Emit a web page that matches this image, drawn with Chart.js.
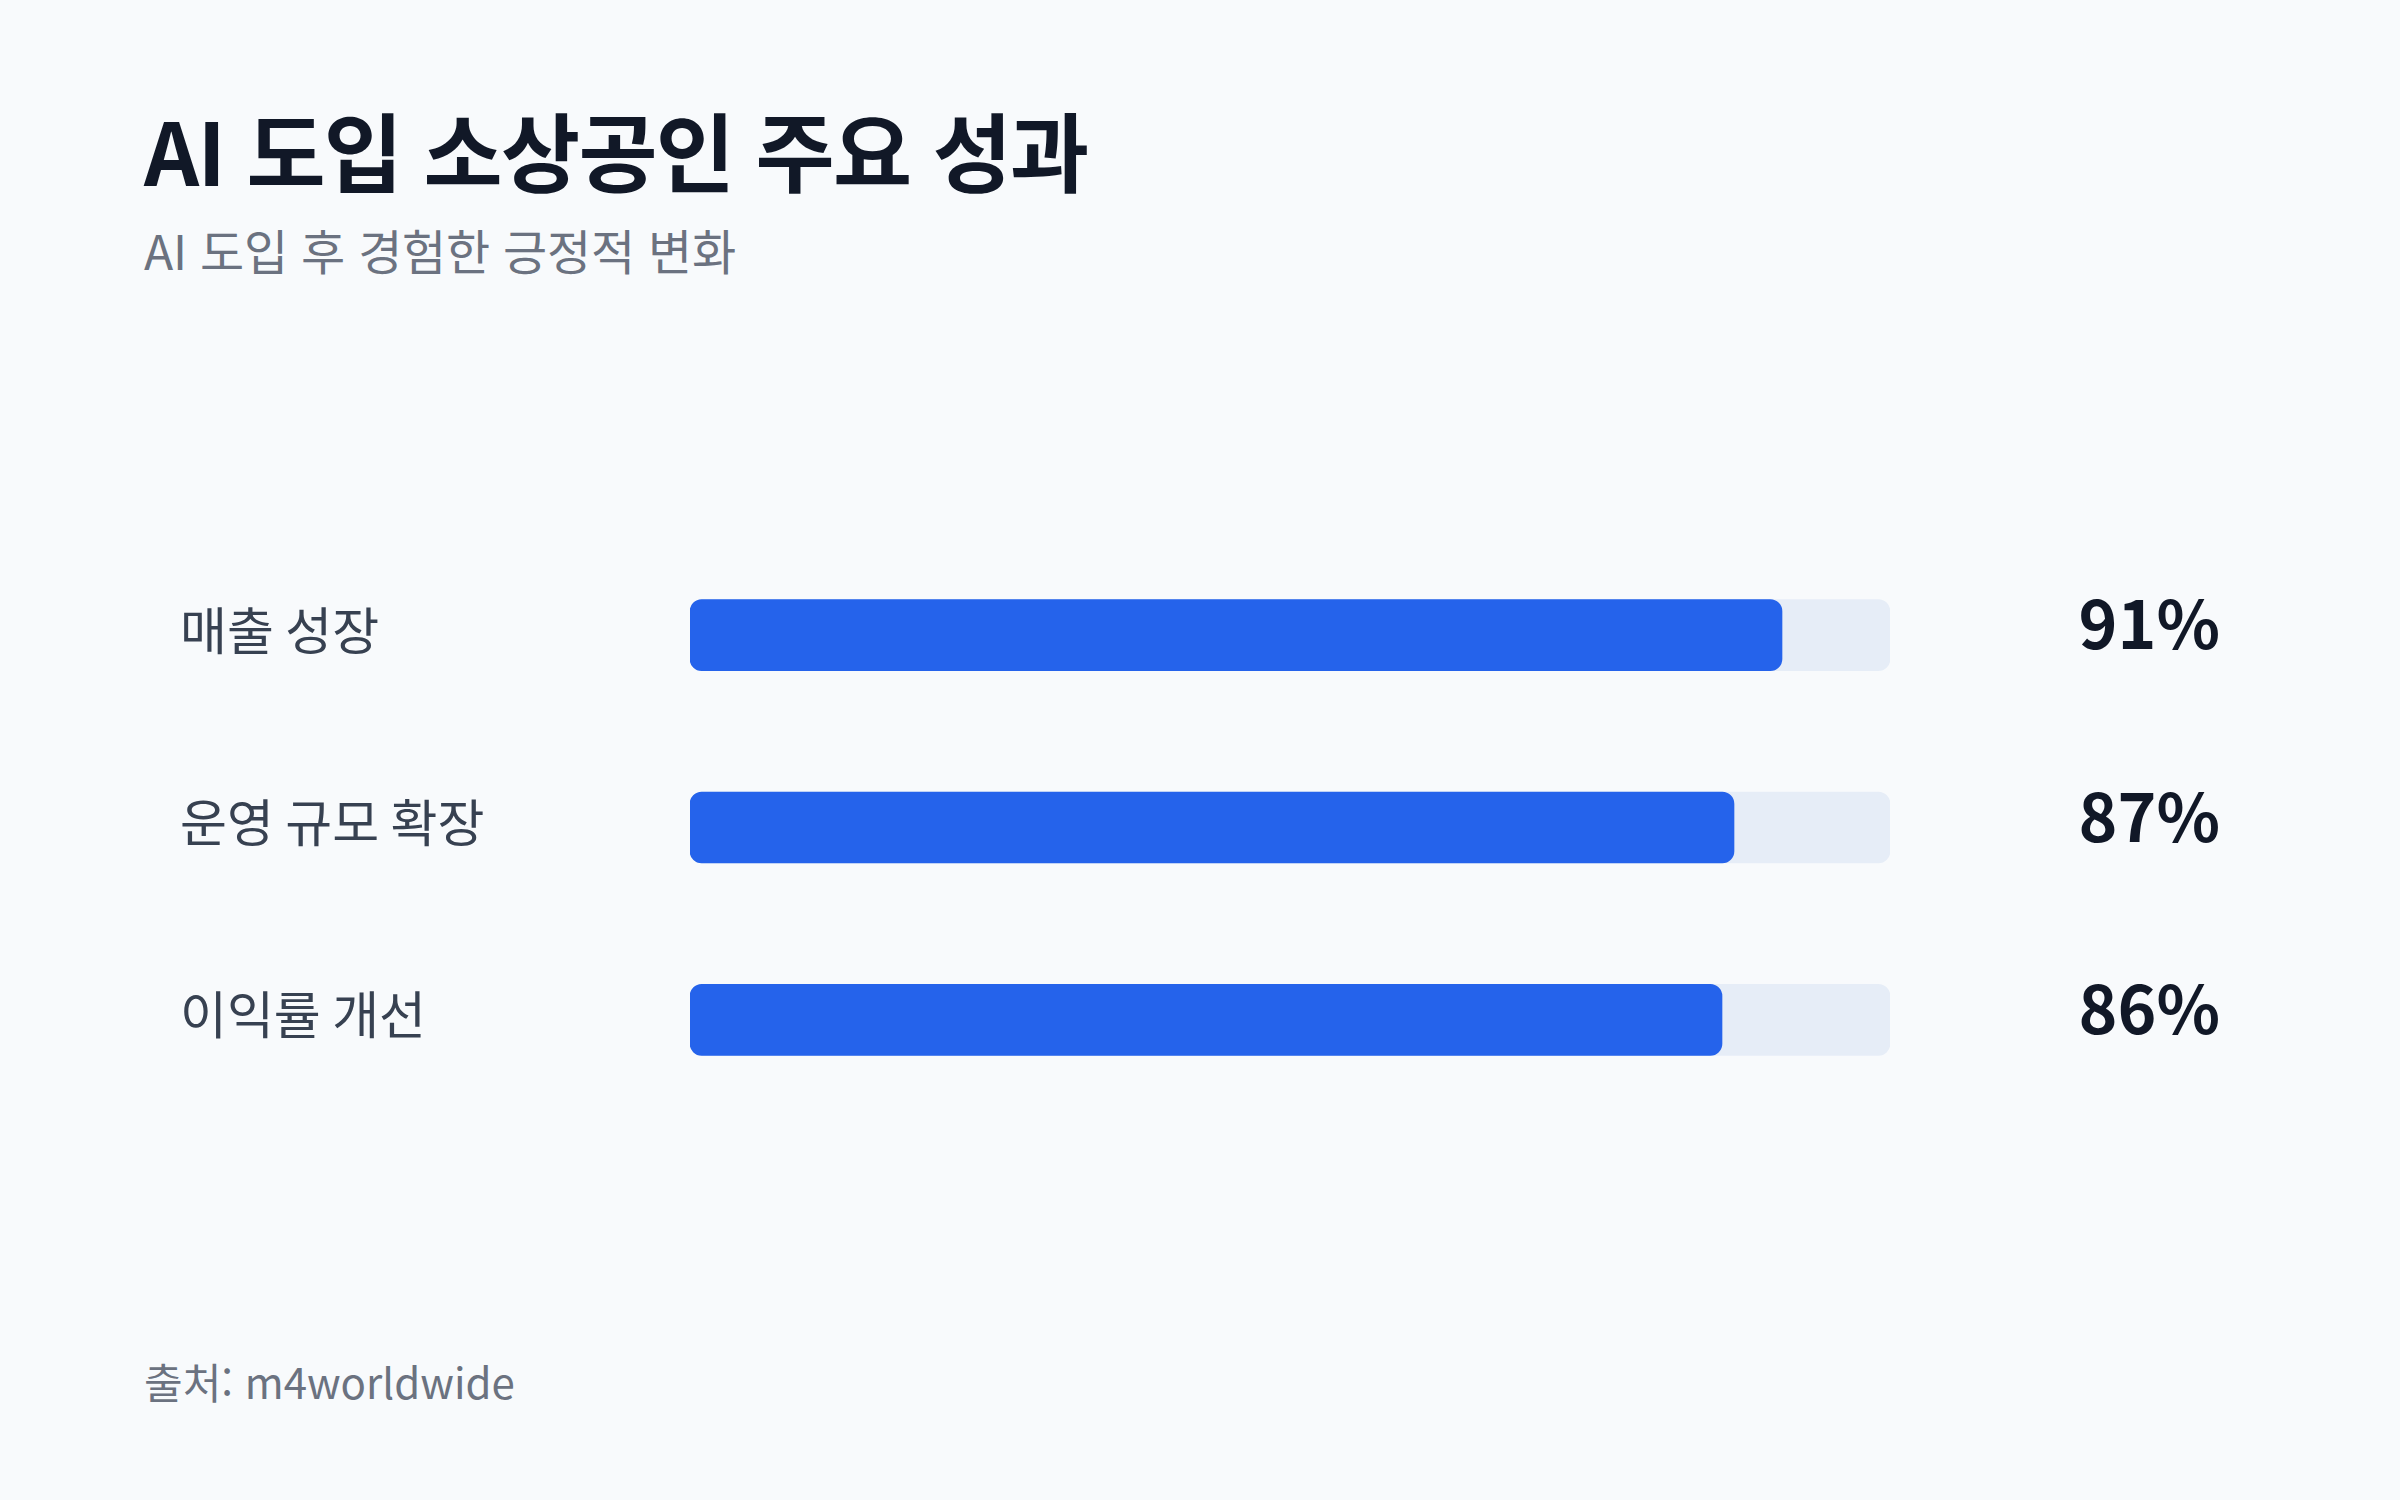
<!DOCTYPE html>
<html lang="ko">
<head>
<meta charset="utf-8">
<script src="https://cdn.jsdelivr.net/npm/chart.js@4.4.1/dist/chart.umd.min.js"></script>
<style>
  html, body { margin: 0; padding: 0; }
  body {
    width: 2400px; height: 1500px; position: relative; overflow: hidden;
    background: #F8FAFC;
    font-family: "Noto Sans CJK KR", sans-serif;
  }
  .txt { position: absolute; left: 144px; margin: 0; line-height: 1; white-space: nowrap; }
  .title { top: 105.5px; font-size: 86px; font-weight: 700; color: #111827; letter-spacing: -0.02em; }
  .subtitle { top: 224.5px; font-size: 48px; font-weight: 400; color: #6B7280; letter-spacing: -0.005em; }
  .source { top: 1360px; font-size: 42px; font-weight: 400; color: #6B7280; }
  #wrap { position: absolute; left: 180px; top: 506px; width: 2040px; height: 643px; }
</style>
</head>
<body>
<h1 class="txt title">AI 도입 소상공인 주요 성과</h1>
<p class="txt subtitle">AI 도입 후 경험한 긍정적 변화</p>
<div id="wrap"><canvas id="myChart"></canvas></div>
<p class="txt source">출처: m4worldwide</p>
<script>
const categories = ["매출 성장", "운영 규모 확장", "이익률 개선"];
const values = [91, 87, 86];
const trackValues = [100, 100, 100];
const valueLabels = ["91%", "87%", "86%"];

const ctx = document.getElementById("myChart");
Chart.defaults.font.family = '"Noto Sans CJK KR", sans-serif';

// value bar on top, light track (100%) underneath
new Chart(ctx, {
  type: "bar",
  data: {
    labels: categories,
    datasets: [
      {
        label: "성과",
        data: values,
        backgroundColor: "#2563EB",
        borderRadius: 12,
        borderSkipped: false,
        barThickness: 71,
        grouped: false,
        order: 0,
      },
      {
        label: "전체",
        data: trackValues,
        backgroundColor: "#E6EDF7",
        borderRadius: 12,
        borderSkipped: false,
        barThickness: 71,
        grouped: false,
        order: 1,
      },
    ],
  },
  options: {
    indexAxis: "y",
    responsive: true,
    maintainAspectRatio: false,
    animation: false,
    layout: { padding: 0 },
    plugins: {
      legend: { display: false },
      tooltip: { enabled: false },
    },
    scales: {
      x: { display: false, min: 0, max: 100 },
      y: {
        position: "left",
        grid: { display: false, drawTicks: false },
        border: { display: false },
        ticks: {
          crossAlign: "far",
          padding: 0,
          labelOffset: -5,
          color: "#374151",
          font: { size: 51, lineHeight: 1 },
        },
        afterFit: (scale) => { scale.width = 510; },
      },
      yv: {
        type: "category",
        position: "right",
        offset: true,
        grid: { display: false, drawTicks: false },
        border: { display: false },
        ticks: {
          crossAlign: "far",
          padding: 0,
          labelOffset: -11,
          color: "#111827",
          font: { size: 66, weight: "bold", lineHeight: 1 },
          callback: (v, i) => valueLabels[i],
        },
        afterFit: (scale) => { scale.width = 330; },
      },
    },
  },
});
</script>
</body>
</html>
